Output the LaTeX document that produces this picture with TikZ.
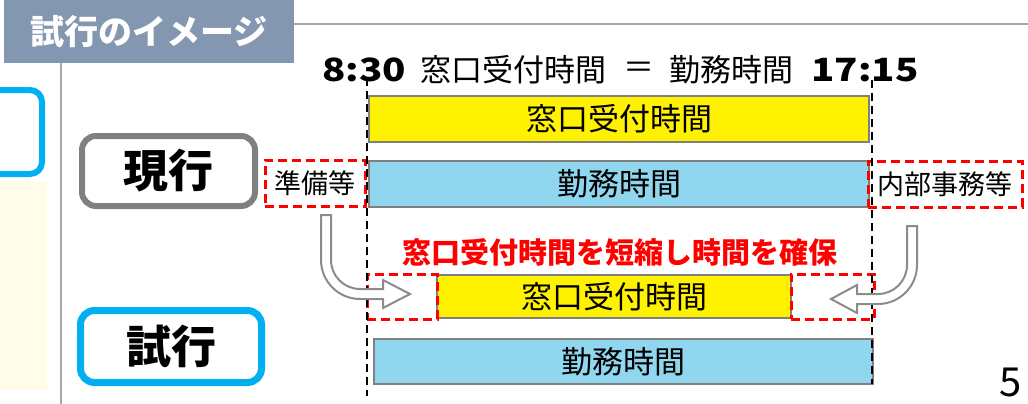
\documentclass[tikz,border=0pt]{standalone}
\usepackage{fontspec}
\setmainfont{Noto Sans CJK JP}
\usepackage{graphicx}
\definecolor{hdr}{RGB}{132,151,176}
\definecolor{rulegray}{RGB}{166,166,166}
\definecolor{boxgray}{RGB}{128,128,128}
\definecolor{skyb}{RGB}{0,176,240}
\definecolor{cream}{RGB}{255,253,233}
\definecolor{barblue}{RGB}{143,214,238}
\definecolor{barline}{RGB}{128,128,128}
\definecolor{arrgray}{RGB}{140,140,140}
\tikzset{
  fs/.style={font=\fontsize{#1}{#1}\selectfont},
  bar/.style={draw=barline, line width=2.2pt, inner sep=0pt, text=black},
  reddash/.style={draw=red, line width=3pt, dash pattern=on 9pt off 5pt, inner sep=0pt},
  blkdash/.style={draw=black, line width=2.5pt, dash pattern=on 8pt off 5pt},
  curvarrow/.style={draw=arrgray, fill=white, line width=2pt, line join=miter},
  labelbox/.style={rounded corners=14pt, line width=6pt, inner sep=0pt},
}
\begin{document}
\begin{tikzpicture}[x=1pt,y=-1pt]
\useasboundingbox (0,0) rectangle (1028,404);
% left panel remnants
\fill[cream] (0,182) rectangle (47,390);
\draw[skyb, line width=6pt, rounded corners=12pt] (-30,90) -- (42,90) -- (42,174) -- (-30,174);
% rules
\coordinate (r1) at (294,24); \coordinate (r2) at (1028,24);
\draw[rulegray, line width=2pt] (r1) -- (r2);
\coordinate (v1) at (61,62); \coordinate (v2) at (61,404);
\draw[rulegray, line width=2pt] (v1) -- (v2);
% header
\node[fill=hdr, minimum width=290pt, minimum height=63pt, inner sep=0pt, text=white, font=\bfseries\fontsize{34}{34}\selectfont] (hdr) at (149,31.5) {試行のイメージ};
% label boxes
\node[labelbox, draw=boxgray, minimum width=173pt, minimum height=70pt, font=\bfseries\fontsize{45}{45}\selectfont] (cur) at (168.5,171) {現行};
\node[labelbox, draw=skyb, line width=7pt, minimum width=181pt, minimum height=72pt, font=\bfseries\fontsize{45}{45}\selectfont] (tri) at (171,346.5) {試行};
% title
\node[font=\bfseries\fontsize{32}{32}\selectfont] (t1) at (364,70) {\scalebox{1.2}[1]{8:30}};
\node[fs=31] (t2) at (513,70) {窓口受付時間};
\node[fs=31] (t3) at (639,70) {＝};
\node[fs=31] (t4) at (731,70) {勤務時間};
\node[font=\bfseries\fontsize{32}{32}\selectfont] (t5) at (865,70) {\scalebox{1.2}[1]{17:15}};
% dashed guides
\coordinate (dl1) at (367,78); \coordinate (dl2) at (367,396);
\coordinate (dr1) at (872,80); \coordinate (dr2) at (872,384);
% bars (current)
\node[bar, fill=yellow, minimum width=500pt, minimum height=46pt, fs=31] (y1) at (619,119) {窓口受付時間};
\node[bar, fill=barblue, minimum width=500pt, minimum height=46pt, fs=31] (b1) at (619,184) {勤務時間};
\node[reddash, minimum width=100pt, minimum height=46pt, fs=27] (prep) at (315,183) {準備等};
\node[reddash, minimum width=154pt, minimum height=46pt, fs=27] (naibu) at (945,184) {内部事務等};
% red message
\node[text=red, font=\bfseries\fontsize{29}{29}\selectfont] (msg) at (620,252) {窓口受付時間を短縮し時間を確保};
% bars (trial)
\node[bar, fill=yellow, minimum width=354pt, minimum height=43pt, fs=31] (y2) at (614,296.5) {窓口受付時間};
\node[reddash, minimum width=70pt, minimum height=45pt] (gl) at (402,296.5) {};
\node[reddash, minimum width=83pt, minimum height=45pt] (gr) at (832.5,296.5) {};
\node[bar, fill=barblue, minimum width=499pt, minimum height=45pt, fs=31] (b2) at (623.5,361.5) {勤務時間};
\draw[blkdash] (dl1) -- (dl2);
\draw[blkdash] (dr1) -- (dr2);
% curved arrows
\draw[curvarrow] (321,215) -- (331,215) -- (331,260)
  .. controls (331,276) and (344,289) .. (360,289)
  -- (383,289) -- (383,280) -- (410,294) -- (383,308) -- (383,299) -- (360,299)
  .. controls (338.5,299) and (321,281.5) .. (321,260) -- cycle;
\draw[curvarrow] (907,226) -- (917,226) -- (917,265)
  .. controls (917,286.5) and (899.5,304) .. (878,304)
  -- (857,304) -- (857,313) -- (831,299) -- (857,285) -- (857,294) -- (878,294)
  .. controls (894,294) and (907,281) .. (907,265) -- cycle;
% page number
\node[anchor=base, fs=40, inner sep=0pt] (pg) at (1011,396) {5};
\end{tikzpicture}
\end{document}
